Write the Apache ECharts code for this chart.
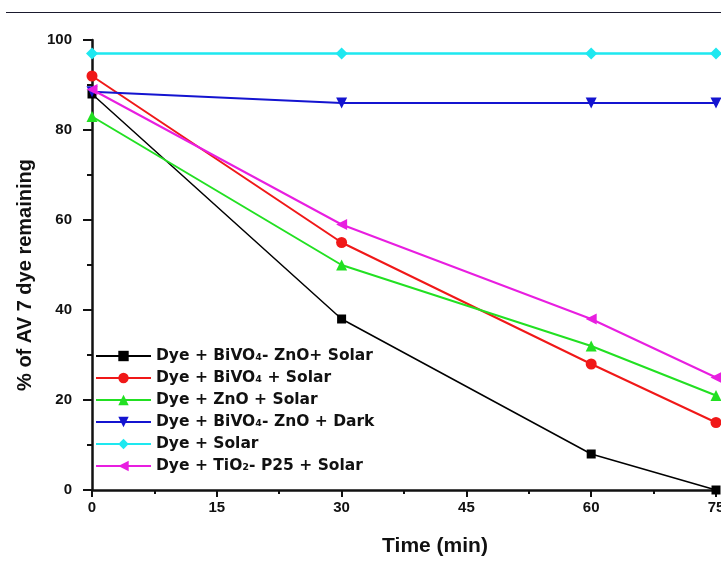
<!DOCTYPE html>
<html>
<head>
<meta charset="utf-8">
<script src="https://cdn.jsdelivr.net/npm/echarts@6/dist/echarts.min.js"></script>
<style>html,body{margin:0;padding:0;background:#fff;}#c{width:721px;height:567px;}</style>
</head>
<body>
<div id="c"></div>
<script>
var times = [0, 30, 60, 75];
var seriesNames = [
  'Dye + BiVO\u2084- ZnO+ Solar',
  'Dye + BiVO\u2084 + Solar',
  'Dye + ZnO + Solar',
  'Dye + BiVO\u2084- ZnO + Dark',
  'Dye + Solar',
  'Dye + TiO\u2082- P25 + Solar'
];
var bivoZnoSolar = [88, 38, 8, 0];
var bivoSolar = [92, 55, 28, 15];
var znoSolar = [83, 50, 32, 21];
var bivoZnoDark = [88.5, 86, 86, 86];
var dyeSolar = [97, 97, 97, 97];
var tio2Solar = [89, 59, 38, 25];
var xTicks = [0, 15, 30, 45, 60, 75];
var yTicks = [0, 20, 40, 60, 80, 100];

var values = [bivoZnoSolar, bivoSolar, znoSolar, bivoZnoDark, dyeSolar, tio2Solar];
var colors = ['#000000', '#f01818', '#22e022', '#1414d0', '#1ee8f0', '#e81ee0'];
var symbols = ['rect', 'circle', 'triangle', 'triangle', 'diamond', 'triangle'];
var rotates = [0, 0, 0, 180, 0, 90];
var sizes = [9, 11, 11, 11, 12, 11];
var widths = [1.5, 2, 2, 2, 2.5, 2];

function pairs(arr) { return times.map(function (t, i) { return [t, arr[i]]; }); }

var series = values.map(function (v, i) {
  return {
    name: seriesNames[i],
    type: 'line',
    data: pairs(v),
    color: colors[i],
    symbol: symbols[i],
    symbolRotate: rotates[i],
    symbolSize: sizes[i],
    showAllSymbol: true,
    clip: false,
    lineStyle: { width: widths[i], color: colors[i] },
    itemStyle: { color: colors[i] },
    z: 3 + i
  };
});

var font = 'Liberation Sans, Arial, sans-serif';
var lfont = 'DejaVu Sans, sans-serif';
var chart = echarts.init(document.getElementById('c'), null, { renderer: 'canvas' });
chart.setOption({
  animation: false,
  backgroundColor: '#ffffff',
  grid: { left: 92, right: 5, top: 40, bottom: 77, containLabel: false, outerBoundsMode: 'none' },
  xAxis: {
    type: 'value', min: 0, max: 75, interval: 15,
    name: 'Time (min)', nameLocation: 'middle', nameGap: 46,
    nameTextStyle: { fontFamily: font, fontWeight: 'bold', fontSize: 21, color: '#111', padding: [0, 0, 0, 62] },
    axisLine: { onZero: false, lineStyle: { color: '#111', width: 2.5 } },
    axisTick: { show: true, inside: false, length: 7, lineStyle: { color: '#111', width: 2 } },
    minorTick: { show: true, splitNumber: 2, length: 4, lineStyle: { color: '#111', width: 2 } },
    splitLine: { show: false },
    axisLabel: { fontFamily: font, fontWeight: 'bold', fontSize: 15, color: '#111', margin: 10,
      formatter: function (v) { return xTicks.indexOf(v) >= 0 ? String(v) : ''; } }
  },
  yAxis: {
    type: 'value', min: 0, max: 100, interval: 20,
    name: '% of AV 7 dye remaining', nameLocation: 'middle', nameGap: 57, nameRotate: 90,
    nameTextStyle: { fontFamily: font, fontWeight: 'bold', fontSize: 20, color: '#111', padding: [0, 20, 0, 0] },
    axisLine: { show: true, onZero: false, lineStyle: { color: '#111', width: 2.5 } },
    axisTick: { show: true, inside: false, length: 9, lineStyle: { color: '#111', width: 2 } },
    minorTick: { show: true, splitNumber: 2, length: 5, lineStyle: { color: '#111', width: 2 } },
    splitLine: { show: false },
    axisLabel: { fontFamily: font, fontWeight: 'bold', fontSize: 15, color: '#111', margin: 20,
      formatter: function (v) { return yTicks.indexOf(v) >= 0 ? String(v) : ''; } }
  },
  legend: {
    orient: 'vertical', left: 90, top: 343,
    itemWidth: 55, itemHeight: 13, itemGap: 6,
    data: seriesNames,
    textStyle: { fontFamily: lfont, fontWeight: 'bold', fontSize: 15.5, color: '#111' }
  },
  graphic: [{
    type: 'line', shape: { x1: 6, y1: 12.5, x2: 721, y2: 12.5 },
    style: { stroke: '#1a1a2e', lineWidth: 1.2 }, silent: true
  }],
  series: series
});
</script>
</body>
</html>
